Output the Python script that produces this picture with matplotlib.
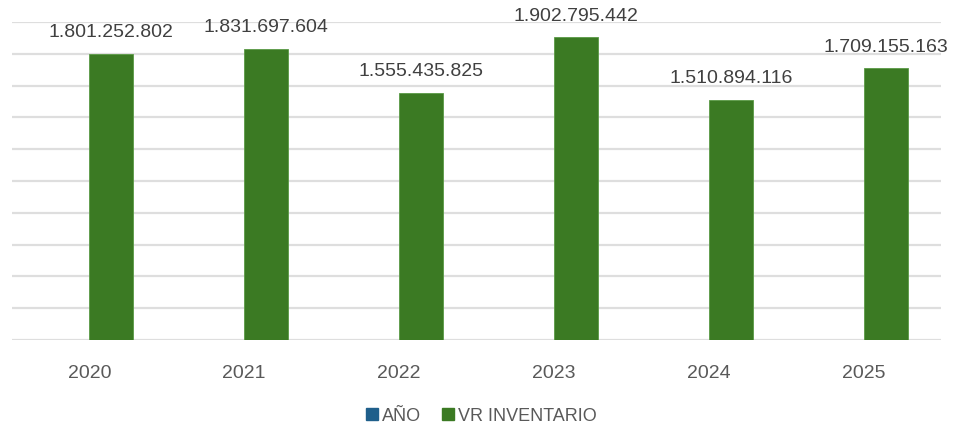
import matplotlib
matplotlib.use("Agg")
import matplotlib.pyplot as plt
import numpy as np

years = ["2020", "2021", "2022", "2023", "2024", "2025"]
anio_values = [2020, 2021, 2022, 2023, 2024, 2025]
inventario_values = [1801252802, 1831697604, 1555435825, 1902795442, 1510894116, 1709155163]

plt.rcParams['font.family'] = ['Liberation Sans', 'DejaVu Sans']

W, H = 955, 431
fig = plt.figure(figsize=(W / 100, H / 100), dpi=100)
ax = fig.add_axes([12 / W, (H - 341) / H, (941 - 12) / W, (341 - 23) / H])

x = np.arange(len(years))
w = 0.284
blue = '#1f5f8b'
green = '#3b7a23'
ax.bar(x - w / 2, anio_values, width=w, color=blue, label='AÑO', zorder=3)
ax.bar(x + w / 2, inventario_values, width=w, color=green, edgecolor='#5a9a45',
       linewidth=0.6, label='VR INVENTARIO', zorder=3)

def fmt(v):
    return f"{v:,}".replace(",", ".")

for xi, v in zip(x, inventario_values):
    ax.annotate(fmt(v), (xi + w / 2, v), xytext=(0, 16), textcoords='offset points',
                ha='center', va='center', fontsize=14, color='#404040')

ax.set_xlim(-0.5, len(years) - 0.5)
ax.set_ylim(0, 2.0e9)
ax.set_yticks(np.arange(0, 2.0e9 + 1, 2.0e8))
ax.yaxis.grid(True, color='#dedede', linewidth=1.6, zorder=0)
ax.tick_params(axis='y', left=False, labelleft=False)
ax.set_xticks(x)
ax.set_xticklabels(years, fontsize=14, color='#595959')
ax.tick_params(axis='x', length=0, pad=17)
for s in ax.spines.values():
    s.set_visible(False)

from matplotlib.lines import Line2D
handles = [Line2D([], [], marker='s', linestyle='none', markersize=8, color=blue),
           Line2D([], [], marker='s', linestyle='none', markersize=8, color=green)]
fig.legend(handles, ['AÑO', 'VR INVENTARIO'], loc='center',
           bbox_to_anchor=(480 / W, 1 - 417 / H), ncol=2, frameon=False,
           fontsize=13, labelcolor='#595959', handletextpad=0.05, columnspacing=1.0,
           handlelength=1.0)

fig.savefig('out.png', dpi=100)
